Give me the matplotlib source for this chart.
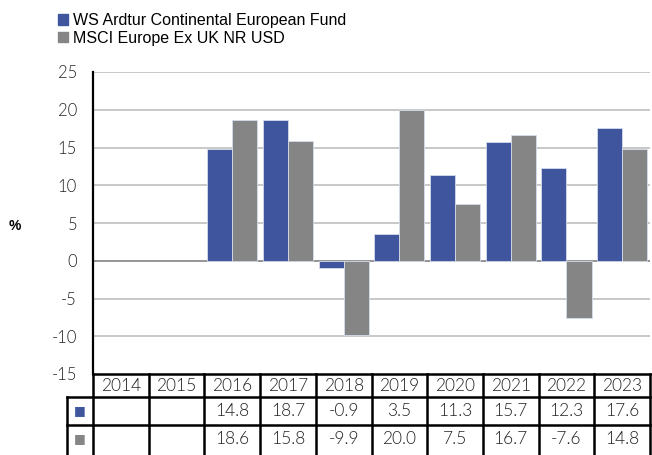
import numpy as np
import matplotlib.pyplot as plt
from matplotlib.patches import Patch
from matplotlib.transforms import blended_transform_factory

anos = ["2014", "2015", "2016", "2017", "2018", "2019", "2020", "2021", "2022", "2023"]
fundo = [None, None, 14.8, 18.7, -0.9, 3.5, 11.3, 15.7, 12.3, 17.6]
indice = [None, None, 18.6, 15.8, -9.9, 20.0, 7.5, 16.7, -7.6, 14.8]
nomes = ["WS Ardtur Continental European Fund", "MSCI Europe Ex UK NR USD"]
cores = ["#3F569F", "#858585"]

plt.rcParams['font.family'] = ['Liberation Sans', 'DejaVu Sans']
plt.rcParams['axes.unicode_minus'] = False
fonte_num = ['Lato', 'DejaVu Sans']
peso_num = 300

fig = plt.figure(figsize=(6.52, 4.55), dpi=100)
ax = fig.add_axes([93/652, 1 - 374/455, 557/652, 302/455])

x = np.arange(len(anos))
larg = 0.45
for i, serie in enumerate([fundo, indice]):
    vals = np.array([np.nan if v is None else v for v in serie])
    ax.bar(x - larg/2 + i*larg, vals, width=larg, color=cores[i], edgecolor="#D5DCEB",
           linewidth=0.6, zorder=3)

ax.set_xlim(-0.5, len(anos) - 0.5)
ax.set_ylim(-15, 25)
ax.set_yticks(range(-15, 26, 5))
ax.tick_params(axis='y', length=0, labelsize=12, pad=11.5, labelcolor="#222222")
for lab in ax.get_yticklabels():
    lab.set_family(fonte_num)
    lab.set_fontweight(peso_num)
ax.tick_params(axis='x', bottom=False, labelbottom=False)
for t in range(-10, 26, 5):
    ax.axhline(t, color="#C4C4C4" if t != 0 else "#8C8C8C", linewidth=1.3, zorder=1)
for s in ["top", "right", "bottom"]:
    ax.spines[s].set_visible(False)
ax.spines["left"].set_linewidth(1.6)
fig.text(9/652, 1 - 226/455, "%", fontsize=10, fontweight="bold", ha="left", va="center")

# tabela embaixo do grafico
tr = blended_transform_factory(ax.transData, fig.transFigure)
fy = lambda py: 1 - py/455
linhas_y = [374, 397, 425, 456]
lw = 1.8
x_ini = -0.5 - 26/55.7
ax.plot([-0.5, 9.5], [fy(374)]*2, color="black", lw=lw, transform=tr, clip_on=False)
for py in linhas_y[1:3]:
    ax.plot([x_ini, 9.5], [fy(py)]*2, color="black", lw=lw, transform=tr, clip_on=False)
for xe in np.arange(-0.5, 10, 1.0):
    ax.plot([xe, xe], [fy(374), fy(456)], color="black", lw=lw, transform=tr, clip_on=False)
ax.plot([x_ini, x_ini], [fy(397), fy(456)], color="black", lw=lw, transform=tr, clip_on=False)

for j, ano in enumerate(anos):
    ax.text(j, fy(386), ano, transform=tr, ha="center", va="center", fontsize=12.5,
            color="#222222", family=fonte_num, fontweight=peso_num)
for r, serie in enumerate([fundo, indice]):
    yc = fy((linhas_y[r+1] + min(linhas_y[r+2], 453)) / 2)
    ax.text((x_ini - 0.5)/2, yc, "■", transform=tr, ha="center", va="center", fontsize=9,
            color=cores[r], family="DejaVu Sans")
    for j, v in enumerate(serie):
        if v is not None:
            ax.text(j, yc, f"{v:.1f}", transform=tr, ha="center", va="center", fontsize=12.5,
                    color="#222222", family=fonte_num, fontweight=peso_num)

handles = [Patch(color=c, label=n) for c, n in zip(cores, nomes)]
fig.legend(handles=handles, loc="upper left", bbox_to_anchor=(55/652, 1 - 10/455), frameon=False,
           fontsize=11.5, handlelength=0.6, handleheight=0.6, handletextpad=0.35, labelspacing=0.15,
           borderaxespad=0, borderpad=0.2)

fig.savefig("out.png", dpi=100)
